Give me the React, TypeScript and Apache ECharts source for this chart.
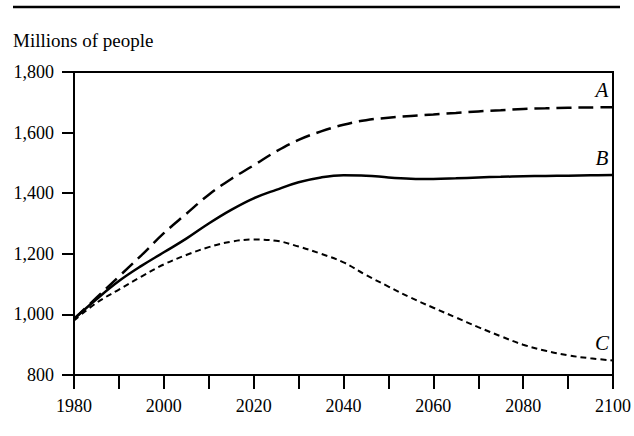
import React, { useEffect, useRef } from "react";
import * as echarts from "echarts";

const years = [1980, 1985, 1990, 1995, 2000, 2005, 2010, 2015, 2020, 2025, 2030, 2035, 2040, 2045, 2050, 2055, 2060, 2065, 2070, 2075, 2080, 2085, 2090, 2095, 2100];
const seriesA = [985, 1055, 1125, 1195, 1268, 1332, 1395, 1447, 1492, 1538, 1576, 1604, 1626, 1641, 1649, 1655, 1660, 1665, 1670, 1674, 1678, 1680, 1682, 1683, 1684];
const seriesB = [985, 1050, 1110, 1160, 1205, 1250, 1300, 1345, 1383, 1411, 1436, 1452, 1459, 1458, 1452, 1448, 1447, 1449, 1452, 1454, 1456, 1457, 1458, 1459, 1460];
const seriesC = [980, 1038, 1082, 1125, 1165, 1196, 1222, 1240, 1247, 1243, 1224, 1200, 1172, 1130, 1092, 1055, 1022, 990, 958, 928, 900, 880, 865, 855, 848];
const seriesNames = ["A", "B", "C"];
const yTicks = [800, 1000, 1200, 1400, 1600, 1800];

const FONT = "'Liberation Serif', 'DejaVu Serif', serif";

function buildData(vals: number[], name: string) {
  return years.map((y, i) => {
    if (i === years.length - 1) {
      return {
        value: [y, vals[i]],
        label: {
          show: true,
          formatter: name,
          position: "top",
          distance: 6,
          offset: [-11, 0],
          fontFamily: FONT,
          fontStyle: "italic",
          fontSize: 21,
          color: "#000",
        },
      };
    }
    return { value: [y, vals[i]] };
  });
}

export default function App() {
  const ref = useRef<HTMLDivElement>(null);
  useEffect(() => {
    if (!ref.current) return;
    const chart = echarts.init(ref.current, null, { renderer: "svg" });
    const dashes = [
      { type: [15, 7] as number[], width: 2.5 },
      { type: "solid", width: 2.5 },
      { type: [6, 4] as number[], width: 2 },
    ];
    const vals = [seriesA, seriesB, seriesC];
    chart.setOption({
      animation: false,
      backgroundColor: "#fff",
      grid: {
        left: 74,
        right: 14,
        top: 72,
        bottom: 61,
        show: true,
        borderColor: "#000",
        borderWidth: 2,
      },
      graphic: [
        {
          type: "line",
          shape: { x1: 13, y1: 7, x2: 620, y2: 7 },
          style: { stroke: "#000", lineWidth: 2.5 },
        },
        {
          type: "text",
          left: 13,
          top: 31,
          style: {
            text: "Millions of people",
            font: `19px ${FONT}`,
            fill: "#000",
          },
        },
      ],
      xAxis: {
        type: "value",
        min: 1980,
        max: 2100,
        interval: 10,
        axisLine: { show: true, lineStyle: { color: "#000", width: 2 } },
        axisTick: { show: true, length: 14, lineStyle: { color: "#000", width: 2 } },
        splitLine: { show: false },
        axisLabel: {
          formatter: (v: number) => (v % 20 === 0 ? String(v) : ""),
          fontFamily: FONT,
          fontSize: 18,
          color: "#000",
          margin: 22,
        },
      },
      yAxis: {
        type: "value",
        min: yTicks[0],
        max: yTicks[yTicks.length - 1],
        interval: 200,
        axisLine: { show: true, lineStyle: { color: "#000", width: 2 } },
        axisTick: { show: true, length: 12, lineStyle: { color: "#000", width: 2 } },
        splitLine: { show: false },
        axisLabel: {
          formatter: (v: number) => v.toLocaleString("en-US"),
          fontFamily: FONT,
          fontSize: 18,
          color: "#000",
          margin: 20,
        },
      },
      series: seriesNames.map((n, i) => ({
        name: n,
        type: "line",
        smooth: 0.4,
        symbol: "circle",
        symbolSize: 1,
        showSymbol: true,
        showAllSymbol: true,
        itemStyle: { color: "rgba(0,0,0,0)", borderWidth: 0 },
        data: buildData(vals[i], n),
        lineStyle: { color: "#000", width: dashes[i].width, type: dashes[i].type },
        z: 3,
      })),
    });
    return () => chart.dispose();
  }, []);
  return (
    <div
      ref={ref}
      style={{ position: "fixed", left: 0, top: 0, width: 634, height: 436 }}
    />
  );
}
